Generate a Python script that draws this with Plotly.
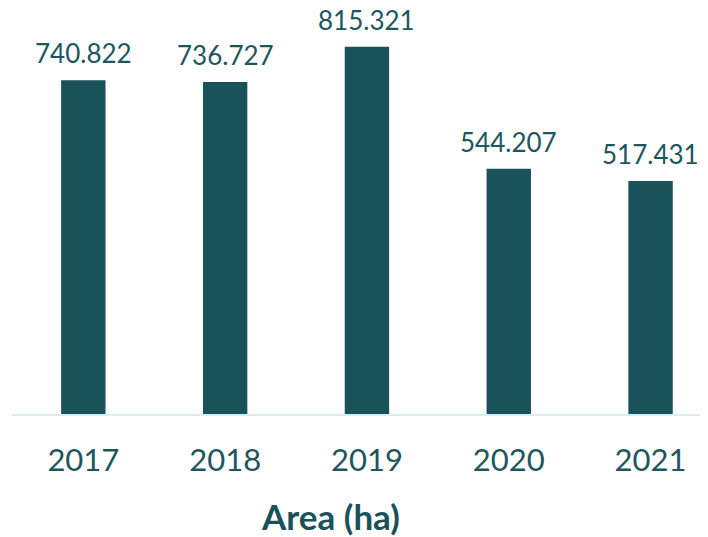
import plotly.graph_objects as go

years = ["2017", "2018", "2019", "2020", "2021"]
area = [740.822, 736.727, 815.321, 544.207, 517.431]
labels = ["740.822", "736.727", "815.321", "544.207", "517.431"]

BAR = "#1a525a"
TXT = "#1d5660"
FONT = "Lato, 'Open Sans', sans-serif"

fig = go.Figure()
fig.add_trace(go.Bar(x=list(range(len(years))), y=area,
                     marker=dict(color=BAR, line=dict(width=0)),
                     hoverinfo="skip"))

for i, (v, lab) in enumerate(zip(area, labels)):
    fig.add_annotation(x=i, y=v, text=lab, showarrow=False, xref="x", yref="y",
                       yanchor="bottom", yshift=14, borderpad=0, height=24,
                       valign="middle",
                       font=dict(family=FONT, size=26, color=TXT))

fig.add_annotation(x=0.457, y=0, xref="paper", yref="paper", text="<b>Area (ha)</b>",
                   showarrow=False, yanchor="middle", yshift=-102,
                   font=dict(family=FONT, size=35, color=BAR))

fig.update_layout(
    width=700, height=529,
    margin=dict(l=4, r=0, t=10, b=123),
    plot_bgcolor="white", paper_bgcolor="white",
    bargap=0.687, showlegend=False,
    xaxis=dict(range=[-0.503, 4.405], showline=True,
               tickmode="array", tickvals=list(range(len(years))), ticktext=years,
               linecolor="#d6eef5", linewidth=2, showgrid=False, zeroline=False,
               ticks="outside", ticklen=18, tickcolor="rgba(0,0,0,0)",
               tickfont=dict(family=FONT, size=31, color=TXT)),
    yaxis=dict(range=[0, 879], visible=False, showgrid=False, zeroline=False),
)

fig.write_html("out.html")
